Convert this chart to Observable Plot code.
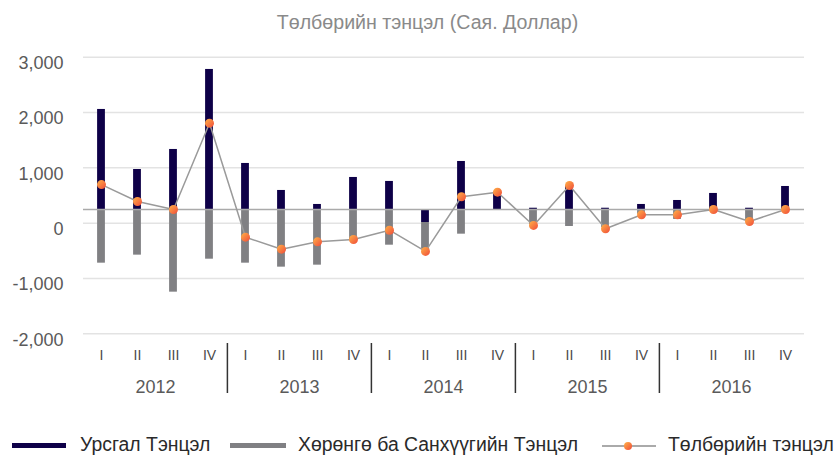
<!DOCTYPE html>
<html>
<head>
<meta charset="utf-8">
<script src="https://cdn.jsdelivr.net/npm/d3@7"></script>
<script src="https://cdn.jsdelivr.net/npm/@observablehq/plot@0.6"></script>
<style>
  body { margin: 0; background: #fff; font-family: "Liberation Sans", Arial, sans-serif; width: 839px; height: 456px; overflow: hidden; position: relative; }
  #title { height: 44px; line-height: 44px; text-align: center; font-size: 19.6px; color: #8a8a8a; padding-left: 16px; }
  #legend { position: absolute; left: 0; top: 434px; width: 839px; height: 21px; font-size: 19.4px; color: #2a2a2a; }
  .item { position: absolute; top: 0; height: 21px; line-height: 21px; white-space: nowrap; }
  .sw { position: absolute; }
</style>
</head>
<body>
<div id="title">Төлбөрийн тэнцэл (Сая. Доллар)</div>
<div id="chart"></div>
<div id="legend">
  <div class="sw" style="left:12px;top:9px;width:54px;height:5px;background:#0e0048"></div>
  <div class="item" style="left:80px">Урсгал Тэнцэл</div>
  <div class="sw" style="left:230px;top:9px;width:56px;height:5px;background:#808083"></div>
  <div class="item" style="left:298px">Хөрөнгө ба Санхүүгийн Тэнцэл</div>
  <div class="sw" style="left:602px;top:11px;width:54px;height:1.5px;background:#aaa"></div>
  <div class="sw" style="left:624px;top:8px;width:8px;height:8px;border-radius:50%;background:linear-gradient(135deg,#ffb347,#f04a3a)"></div>
  <div class="item" style="left:668px">Төлбөрийн тэнцэл</div>
</div>
<script>
const years = [2012, 2013, 2014, 2015, 2016];
const quarters = ["I", "II", "III", "IV"];
// values read on the chart's left axis (Сая. Доллар)
const barBase = 247; // level of the bars' baseline on the axis
const currentEnd = [2055, 970, 1332, 2778, 1079, 591, 338, 826, 754, 12, 1115, 560, 270, 669, 270, 338, 410, 537, 270, 663];
const financialEnd = [-723, -578, -1247, -651, -723, -795, -759, -300, -398, -480, -199, 247, -30, -60, -80, 160, 67, 247, 30, 247];
const balance = [697, 392, 248, 1807, -253, -470, -337, -295, -127, -510, 477, 560, -41, 681, -101, 151, 151, 248, 31, 248];
const yTicks = [-2000, -1000, 0, 1000, 2000, 3000];

const periods = years.flatMap(y => quarters.map(q => `${y} ${q}`));
const rows = periods.map((p, i) => ({
  p, year: +p.slice(0, 4), q: p.slice(5),
  cur: currentEnd[i], fin: financialEnd[i], bop: balance[i],
  finStart: Math.min(barBase, currentEnd[i])
}));

const W = 839, H = 365;
const mL = 81, mR = 34, mT = 12.67, mB = H - 289.33;
const bw = (W - mL - mR) / periods.length;
const barW = 8;
const inset = (bw - barW) / 2;

const fmt = d => (d < 0 ? "-" : "") + d3.format(",")(Math.abs(d));

const plot = Plot.plot({
  width: W, height: H,
  marginLeft: mL, marginRight: mR, marginTop: mT, marginBottom: mB,
  style: { fontFamily: "Liberation Sans, Arial, sans-serif", background: "white" },
  x: { type: "band", domain: periods, padding: 0, axis: null },
  y: { domain: [-2000, 3000], axis: null },
  marks: [
    Plot.ruleY(yTicks, { stroke: "#e3e3e3", strokeWidth: 1.5, insetLeft: 2, insetRight: 1 }),
    Plot.text(yTicks, { y: d => d, text: d => fmt(d), frameAnchor: "left", dx: -18, dy: 6, textAnchor: "end", fontSize: 18, fill: "#5a5a5a" }),
    Plot.barY(rows.filter(d => d.fin !== barBase), { x: "p", y1: "finStart", y2: "fin", fill: "#808083", insetLeft: inset, insetRight: inset }),
    Plot.barY(rows, { x: "p", y1: barBase, y2: "cur", fill: "#0e0048", insetLeft: inset, insetRight: inset }),
    Plot.ruleY([barBase], { stroke: "#aaaaaa", strokeWidth: 1.5, insetLeft: 2, insetRight: 1 }),
    Plot.line(rows, { x: "p", y: "bop", stroke: "#9a9a9a", strokeWidth: 1.5 }),
    Plot.dot(rows, { x: "p", y: "bop", r: 4.5, fill: "url(#dotgrad)", stroke: "none" }),
    Plot.text(rows, { x: "p", text: "q", frameAnchor: "bottom", dy: 21.7, lineAnchor: "middle", fontSize: 14, fill: "#4a4a4a" }),
    Plot.text(rows.filter(d => d.q === "II"), { x: "p", text: d => String(d.year), frameAnchor: "bottom", dx: bw / 2, dy: 53.7, lineAnchor: "middle", fontSize: 18, fill: "#5a5a5a" }),
    Plot.ruleX(rows.filter(d => d.q === "I" && d.year > years[0]), { x: "p", dx: -bw / 2, stroke: "#333", strokeWidth: 1.5, insetTop: 299 - mT, insetBottom: -(349 - (H - mB)) })
  ]
});

const defs = d3.select(plot).insert("defs", ":first-child");
const g = defs.append("linearGradient").attr("id", "dotgrad").attr("x1", "0").attr("y1", "0").attr("x2", "1").attr("y2", "1");
g.append("stop").attr("offset", "0%").attr("stop-color", "#ffb347");
g.append("stop").attr("offset", "100%").attr("stop-color", "#f04a3a");

document.getElementById("chart").appendChild(plot);
</script>
</body>
</html>
